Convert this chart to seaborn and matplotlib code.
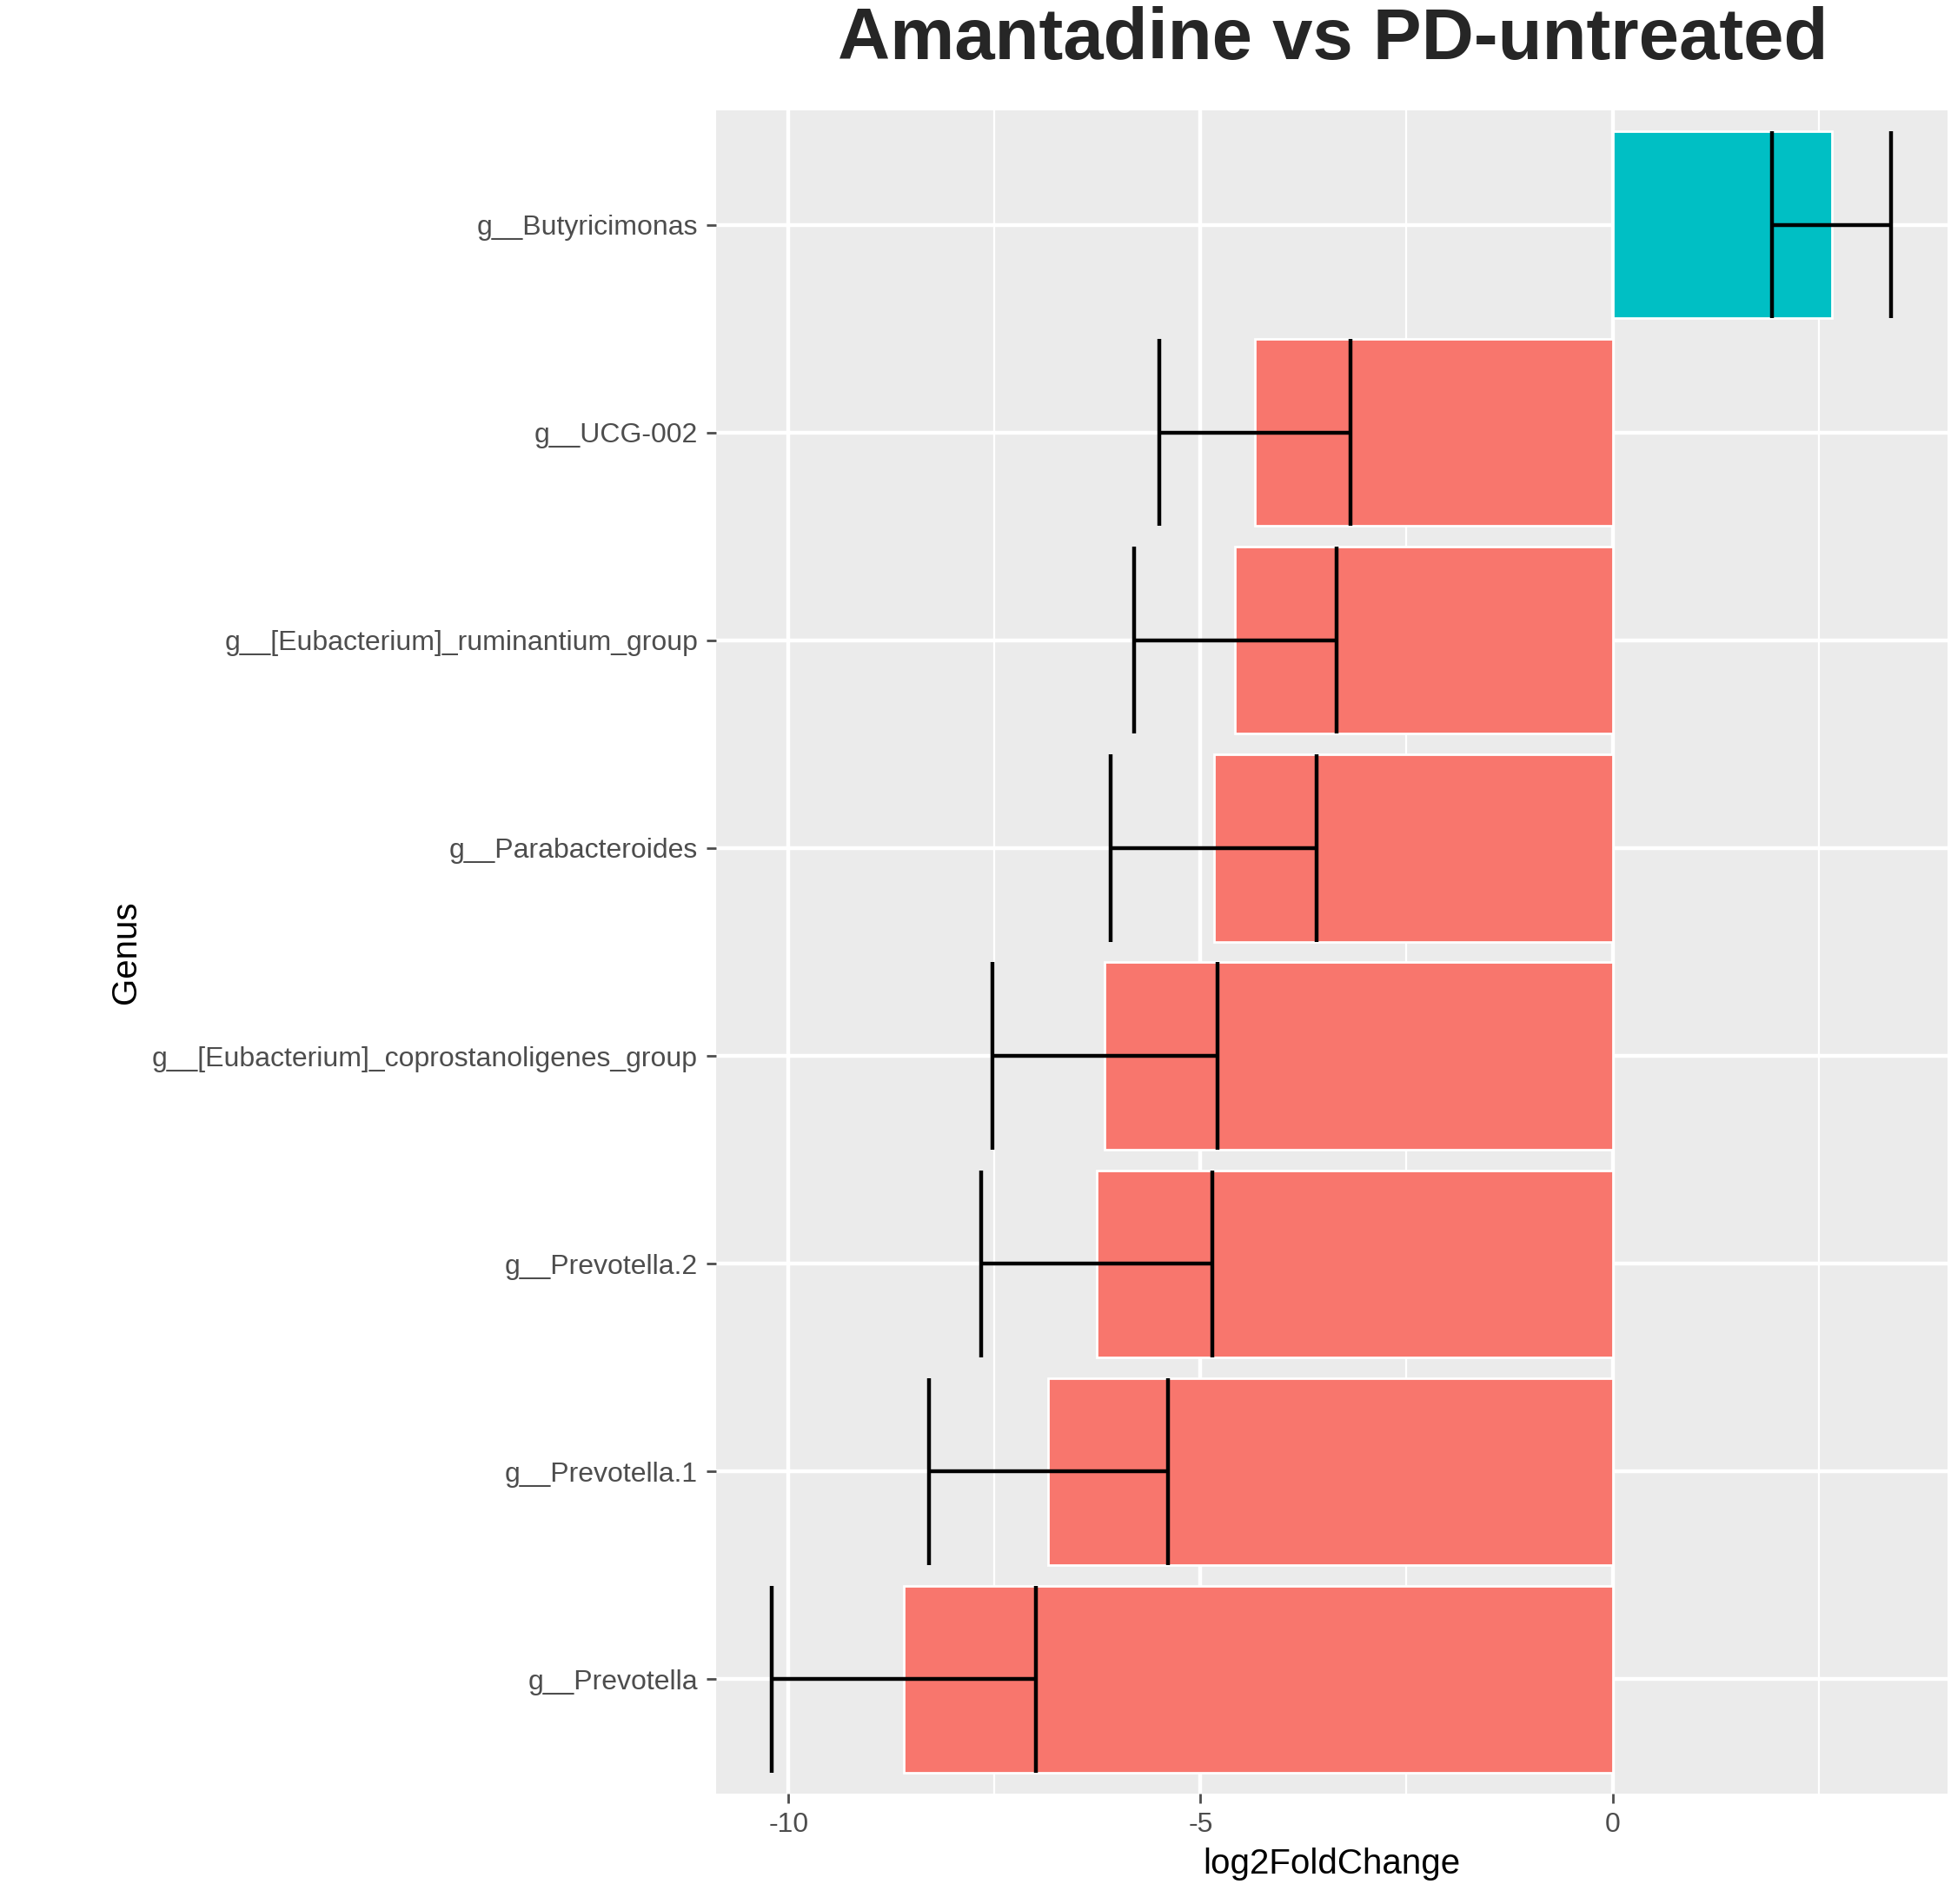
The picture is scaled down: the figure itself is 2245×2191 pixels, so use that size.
import numpy as np
import pandas as pd
import matplotlib
matplotlib.use("Agg")
import matplotlib.pyplot as plt
import seaborn as sns

genus = ["g__Butyricimonas", "g__UCG-002", "g__[Eubacterium]_ruminantium_group",
         "g__Parabacteroides", "g__[Eubacterium]_coprostanoligenes_group",
         "g__Prevotella.2", "g__Prevotella.1", "g__Prevotella"]
lfc = [2.66, -4.34, -4.58, -4.84, -6.16, -6.26, -6.85, -8.60]
se = [0.72, 1.16, 1.23, 1.25, 1.37, 1.40, 1.45, 1.60]

df = pd.DataFrame({"Genus": genus, "log2FoldChange": lfc, "se": se})
df["dir"] = np.where(df["log2FoldChange"] > 0, "up", "down")

sns.set_theme(style="darkgrid", rc={"axes.facecolor": "#EBEBEB", "grid.color": "white",
                                    "grid.linewidth": 1.6})
plt.rcParams["font.family"] = ["Liberation Sans", "DejaVu Sans"]

fig = plt.figure(figsize=(11.225, 10.955), dpi=200)
ax = fig.add_axes([0.367, 0.058, 0.631, 0.884])
sns.barplot(data=df, y="Genus", x="log2FoldChange", hue="dir", order=genus,
            palette={"up": "#00BFC4", "down": "#F8766D"}, width=0.9,
            dodge=False, legend=False, ax=ax, saturation=1)

ypos = np.arange(len(genus))
lo = df["log2FoldChange"] - df["se"]
hi = df["log2FoldChange"] + df["se"]
ax.hlines(ypos, lo, hi, color="black", lw=1.6, zorder=3)
ax.vlines(lo, ypos - 0.45, ypos + 0.45, color="black", lw=1.6, zorder=3)
ax.vlines(hi, ypos - 0.45, ypos + 0.45, color="black", lw=1.6, zorder=3)

ax.set_xlim(-10.88, 4.06)
ax.set_ylim(len(genus) - 0.5 + 0.05, -0.5 - 0.05)
ax.set_xticks([-10, -5, 0])
ax.set_xticklabels(["-10", "-5", "0"])
ax.set_xticks([-7.5, -2.5, 2.5], minor=True)
ax.grid(which="minor", axis="x", color="white", lw=0.8)
ax.grid(which="major", lw=1.6)
ax.tick_params(axis="both", labelsize=11.5, colors="#4D4D4D", length=4, width=1,
               direction="out", left=True, bottom=True)
for lab in ax.get_yticklabels() + ax.get_xticklabels():
    lab.set_color("#4D4D4D")
for s in ax.spines.values():
    s.set_visible(False)
ax.set_xlabel("log2FoldChange", fontsize=14.5, color="black")
ax.set_ylabel("Genus", fontsize=14.5, color="black")
fig.suptitle("Amantadine vs PD-untreated", fontsize=30, fontweight="bold",
             x=0.683, y=0.997, va="top")
fig.savefig("out.png", dpi=200)
